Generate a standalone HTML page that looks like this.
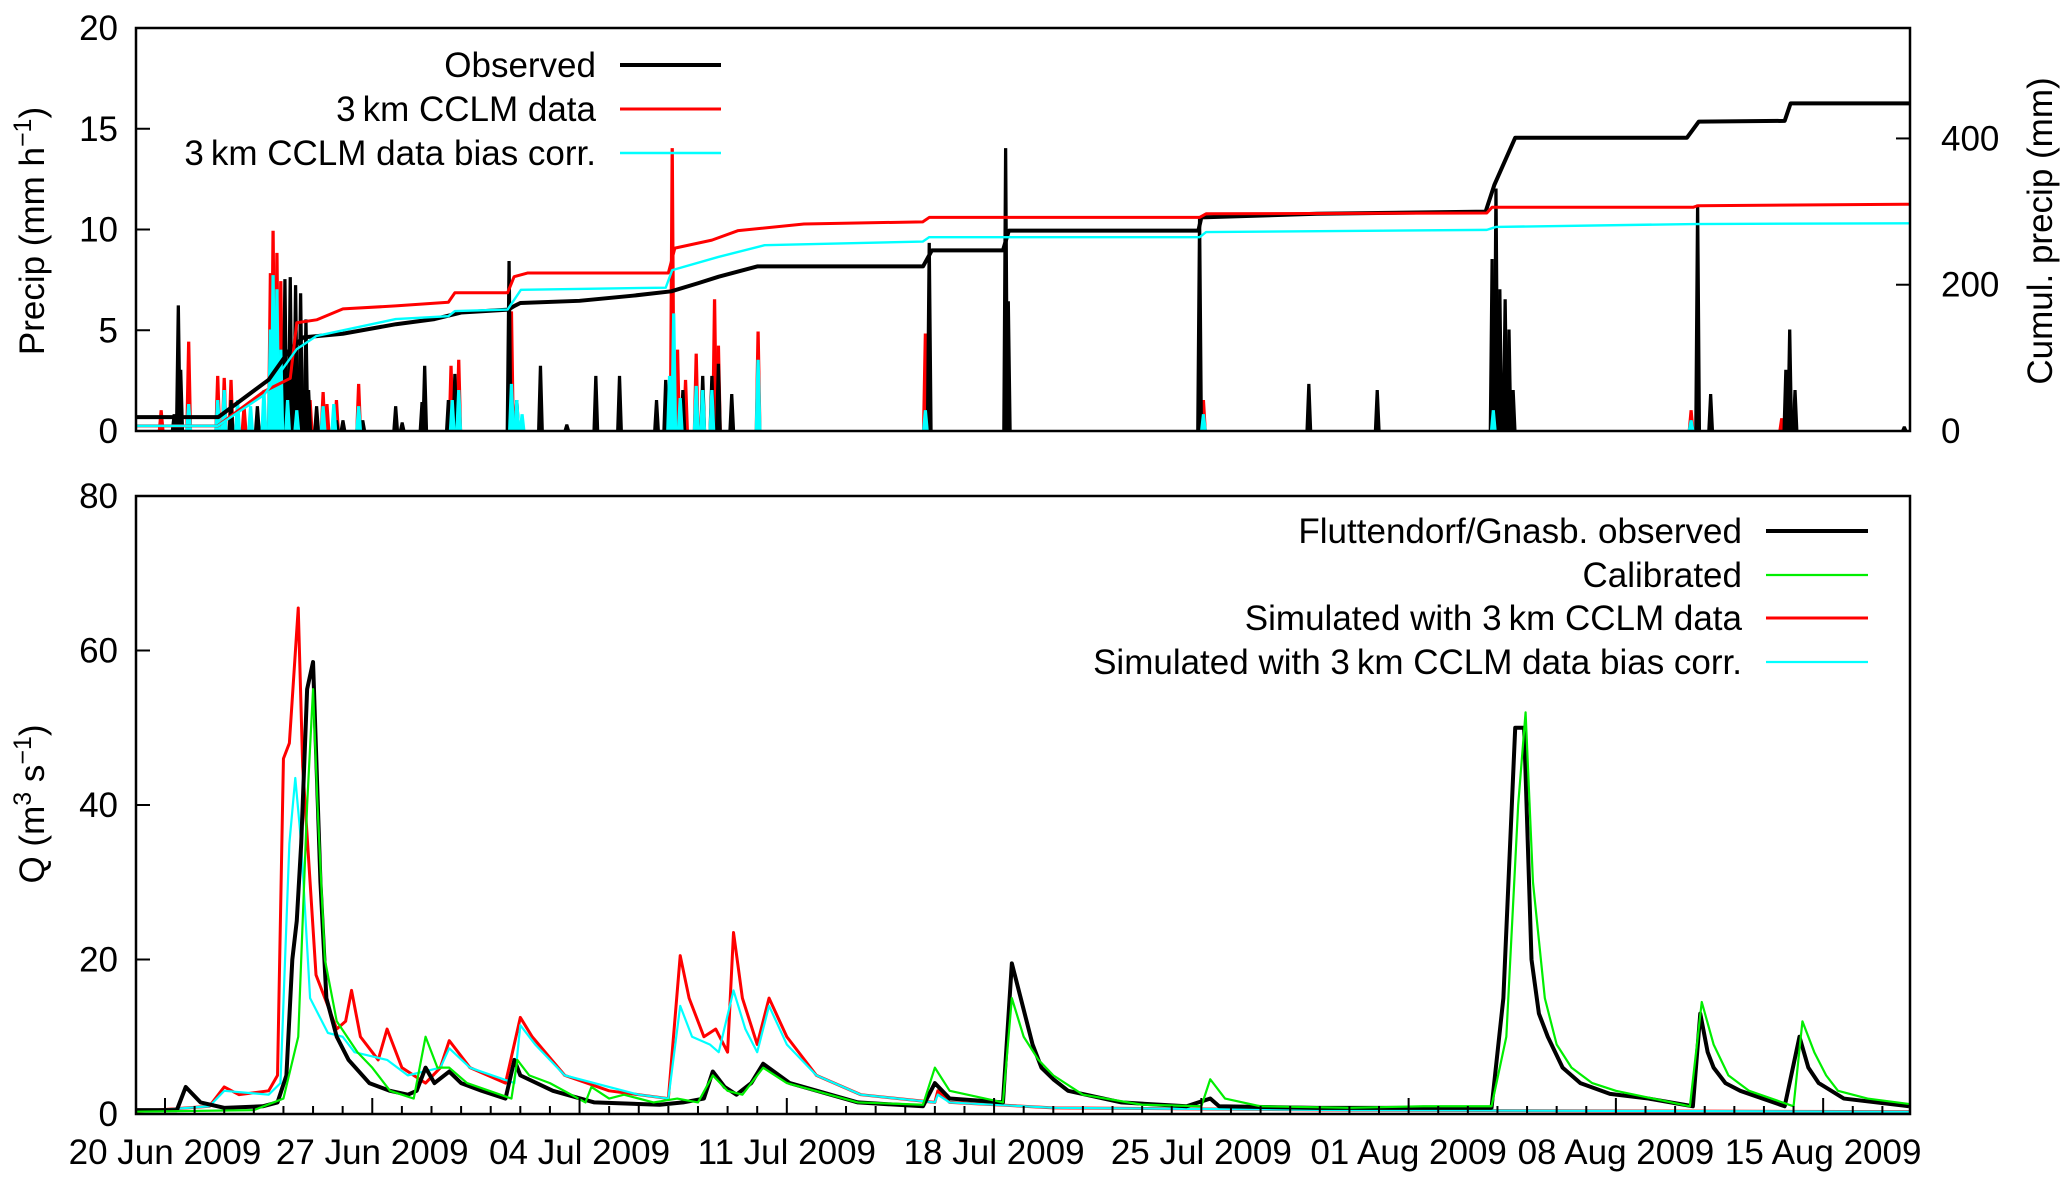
<!DOCTYPE html>
<html><head><meta charset="utf-8">
<style>
html,body{margin:0;padding:0;background:#fff;}
svg{display:block;font-family:"Liberation Sans",sans-serif;}
</style></head>
<body>
<svg id="chart" width="2067" height="1179" viewBox="0 0 2067 1179" xmlns="http://www.w3.org/2000/svg">
<g id="topPanel"></g>
<g id="botPanel"></g>
</svg>
<script>
// ---------- data (day offset from 20 Jun 2009 00:00) ----------
const dateTicks = [0,7,14,21,28,35,42,49,56];
const dateLabels = ["20 Jun 2009","27 Jun 2009","04 Jul 2009","11 Jul 2009","18 Jul 2009","25 Jul 2009","01 Aug 2009","08 Aug 2009","15 Aug 2009"];
const precipTicks = [0,5,10,15,20];
const cumulTicks = [0,200,400];
const qTicks = [0,20,40,60,80];

const obsBars = [[0.31,0.8],[0.45,6.2],[0.53,3],[2.23,1.5],[2.45,0.8],[3.12,1.2],[3.87,4],[4.05,7.5],[4.23,7.6],[4.41,7.2],[4.58,6.8],[4.76,5.5],[4.85,2],[5.12,1.2],[5.79,0.5],[6.01,0.5],[6.68,0.5],[7.79,1.2],[8.01,0.4],[8.68,1.4],[8.77,3.2],[9.57,1.5],[9.79,2.8],[11.62,8.4],[11.88,1.5],[12.68,3.2],[13.57,0.3],[14.55,2.7],[15.35,2.7],[16.6,1.5],[16.91,2.5],[17.49,2],[18.16,2.7],[18.47,2.7],[18.69,3.3],[19.14,1.8],[20.03,0.5],[25.81,9.3],[28.39,14],[28.48,6.4],[34.94,10.5],[38.63,2.3],[40.94,2],[44.82,8.5],[44.95,12],[45.08,7],[45.26,6.5],[45.39,5],[45.53,2],[51.76,11.2],[52.2,1.8],[54.74,3],[54.87,5],[55.05,2],[58.74,0.2]];
const cclmBars = [[-0.13,1.0],[0.8,4.4],[1.78,2.7],[2.0,2.6],[2.23,2.5],[2.67,1.2],[3.34,1.2],[3.56,7.8],[3.65,9.9],[3.78,8.8],[3.91,7.4],[4.45,2],[4.9,1.5],[5.34,1.9],[5.47,1.3],[5.79,1.5],[6.54,2.3],[9.66,3.2],[9.92,3.5],[11.7,5.9],[17.13,14],[17.31,4],[17.58,2.5],[17.94,3.8],[18.56,6.5],[18.69,4.2],[20.03,4.9],[25.68,4.8],[35.07,1.5],[44.86,1.8],[51.54,1.0],[54.6,0.6]];
const biasBars = [[0.8,1.3],[1.78,1.5],[2.0,2.0],[2.45,1.5],[2.89,1.2],[3.34,2.0],[3.56,5.0],[3.65,7.7],[3.78,7.0],[3.91,4.0],[4.14,1.5],[4.45,1.0],[5.34,1.2],[5.7,1.3],[6.54,1.2],[9.7,1.5],[9.92,2.0],[11.7,2.3],[11.88,1.5],[12.06,0.8],[17.04,2.7],[17.18,5.8],[17.4,1.6],[17.94,2.2],[18.16,2.0],[18.47,2.0],[20.03,3.5],[25.68,1.0],[35.07,0.8],[44.86,1.0],[51.54,0.5]];

const obsCumul = [[-1,19],[1.8,19],[2.5,40],[3.5,70],[4.2,110],[4.67,128],[6.0,133],[7.8,146],[9.1,153],[10.0,162],[11.6,166],[11.8,171],[12.0,175],[14.0,178],[15.8,185],[17.1,191],[18.0,202],[18.7,211],[20.0,225],[25.6,225],[25.9,247],[28.3,247],[28.5,274],[34.9,274],[35.0,292],[38.9,297],[44.6,300],[44.9,337],[45.6,401],[51.4,401],[51.8,423],[54.7,424],[54.9,448],[58.9,448]];
const cclmCumul = [[-1,7],[1.78,7],[3.34,54],[4.23,72],[4.45,148],[5.12,152],[6.01,167],[7.79,171],[9.57,176],[9.79,189],[11.57,189],[11.79,211],[12.24,216],[16.998,216],[17.22,250],[18.47,261],[19.36,274],[21.58,283],[25.59,286],[25.81,292],[34.94,292],[35.16,297],[44.64,298],[44.82,306],[51.62,306],[51.76,308],[58.9,310]];
const biasCumul = [[-1,7],[1.78,7],[3.34,49],[4.45,112],[5.12,130],[7.79,153],[9.57,157],[9.79,164],[11.57,166],[12.02,193],[16.91,196],[17.13,220],[18.69,238],[20.25,254],[25.59,259],[25.81,265],[34.94,265],[35.16,272],[44.64,275],[44.95,279],[51.62,283],[58.9,284]];

const qObs = [[-1,0.5],[0.4,0.5],[0.7,3.5],[1.2,1.5],[2,0.8],[3.3,1],[3.8,1.5],[4.1,5],[4.3,20],[4.45,25],[4.6,35],[4.8,55],[5.0,58.5],[5.25,30],[5.45,15],[5.8,10],[6.2,7],[6.9,4],[7.6,3],[8.2,2.5],[8.5,3],[8.8,6],[9.1,4],[9.6,5.5],[10.0,4],[10.7,3],[11.5,2],[11.8,7],[12.0,5],[13.1,3],[14.5,1.5],[16.7,1.2],[17.5,1.5],[18.2,2],[18.5,5.5],[18.9,3.5],[19.3,2.5],[19.8,4],[20.2,6.5],[21.1,4],[23.4,1.5],[25.6,1],[26.0,4],[26.5,2],[28.3,1.5],[28.6,19.5],[28.9,15],[29.3,9],[29.6,6],[30.0,4.5],[30.5,3],[32.3,1.5],[34.5,1],[35.3,2],[35.6,1],[38.9,0.8],[44.8,0.8],[45.2,15],[45.6,50],[45.9,50],[46.15,20],[46.4,13],[46.7,10],[47.2,6],[47.8,4],[48.8,2.6],[50.1,2],[51.6,1],[51.85,13],[52.1,8],[52.3,6],[52.7,4],[53.2,3],[54.7,1],[55.2,10],[55.5,6],[55.85,4],[56.7,2],[58.9,1]];
const qCal = [[-1,0.3],[3,0.5],[4,2],[4.5,10],[4.8,40],[5.0,55],[5.15,40],[5.4,20],[5.8,12],[6.5,8],[7.0,6],[7.6,3],[8.4,2],[8.8,10],[9.2,6],[9.6,6],[10.2,4],[11.7,2],[11.9,7],[12.3,5],[13.0,4],[14.2,1.5],[14.4,3.5],[15,2],[15.5,2.5],[16.5,1.5],[17.3,2],[18.0,1.5],[18.5,5],[19,3],[19.5,2.5],[20.2,6],[21,4],[23.4,1.5],[25.6,1.2],[26.0,6],[26.5,3],[28.3,1.5],[28.6,15],[29.0,10],[29.5,7],[30,5],[31,2.5],[33,1.2],[35.0,1],[35.3,4.5],[35.8,2],[37,1],[40,0.8],[42.5,1],[44.8,1],[45.3,10],[45.7,40],[45.95,52],[46.2,30],[46.6,15],[47.0,9],[47.5,6],[48.2,4],[49,3],[51.5,1],[51.9,14.5],[52.3,9],[52.8,5],[53.5,3],[55.0,1],[55.3,12],[55.7,8],[56.1,5],[56.5,3],[57.5,2],[58.9,1.3]];
const qCclm = [[-1,0.3],[1.5,1],[2,3.5],[2.5,2.5],[3.5,3],[3.8,5],[4.0,46],[4.2,48],[4.5,65.5],[4.65,45],[4.9,30],[5.1,18],[5.5,14],[5.8,11],[6.1,12],[6.3,16],[6.6,10],[7.2,7],[7.5,11],[8,6],[8.8,4],[9.3,6],[9.6,9.5],[10.3,6],[11.5,4],[12.0,12.5],[12.4,10],[13.5,5],[15,3],[16,2.5],[17.0,2],[17.4,20.5],[17.7,15],[18.2,10],[18.6,11],[19.0,8],[19.2,23.5],[19.5,15],[20.0,9],[20.4,15],[21,10],[22,5],[23.5,2.5],[26,1.5],[26.1,3],[26.5,1.5],[30,0.8],[40,0.5],[58.9,0.3]];
const qBias = [[-1,0.3],[1.5,1],[2,3],[3.5,2.5],[3.9,4],[4.2,35],[4.4,43.5],[4.6,35],[4.9,15],[5.5,10.5],[6.0,10],[6.4,8],[7.5,7],[8.2,5],[9.3,6],[9.6,8.5],[10.3,6],[11.8,4],[12.0,11.5],[12.5,9],[13.5,5],[16,2.5],[17.0,2],[17.4,14],[17.8,10],[18.4,9],[18.7,8],[19.2,16],[19.6,11],[20.0,8],[20.4,14],[21,9],[22,5],[23.5,2.5],[26,1.5],[26.1,2.5],[26.5,1.5],[30,0.8],[40,0.5],[58.9,0.3]];

// ---------- layout ----------
const NS="http://www.w3.org/2000/svg";
const X0=136,X1=1910;
const xS=d=>165+d*29.61;
const T0=28,T1=431, B0=496,B1=1114;
const yP=v=>T1-(T1-T0)*v/20;
const yC=v=>T1-(T1-T0)*v/551;
const yQ=v=>B1-(B1-B0)*v/80;
const FS=35;
function el(p,tag,a){const e=document.createElementNS(NS,tag);for(const k in a)e.setAttribute(k,a[k]);p.appendChild(e);return e;}
const topG=document.getElementById('topPanel'), botG=document.getElementById('botPanel');

function frame(g,y0,y1){
  const r=el(g,'rect',{x:X0,y:y0,width:X1-X0,height:y1-y0,fill:'none',stroke:'#000','stroke-width':2.5});
  
  
}
function txt(g,s,a,name){const t=el(g,'text',Object.assign({'font-size':FS,fill:'#000'},a));t.textContent=s;
  
  return t;}

function bars(arr,color,name){
  arr.forEach(([d,v])=>{
    const w=0.09;
    const p=el(topG,'polygon',{points:`${xS(d-w)},${yP(0)} ${xS(d-w/3)},${yP(v)} ${xS(d+w/3)},${yP(v)} ${xS(d+w)},${yP(0)}`,fill:color,stroke:color,'stroke-width':1.5});
    
    
  });
}
function line(g,arr,fy,color,w,name){
  const p=el(g,'polyline',{points:arr.map(([d,v])=>`${Math.max(X0,Math.min(X1,xS(d)))},${fy(v)}`).join(' '),fill:'none',stroke:color,'stroke-width':w,'stroke-linejoin':'round'});
  
  
}

// top panel
bars(cclmBars,'#ff0000','cclm-precip-bar');
bars(obsBars,'#000000','observed-precip-bar');
bars(biasBars,'#00ffff','bias-corr-precip-bar');
line(topG,obsCumul,yC,'#000',4,'observed-cumul-line');
line(topG,cclmCumul,yC,'#ff0000',3,'cclm-cumul-line');
line(topG,biasCumul,yC,'#00ffff',2.4,'bias-corr-cumul-line');
frame(topG,T0,T1);
precipTicks.forEach(v=>{
  const l=el(topG,'line',{x1:X0,x2:X0+14,y1:yP(v),y2:yP(v),stroke:'#000','stroke-width':2});
  
  
  txt(topG,String(v),{x:118,y:yP(v)+12,'text-anchor':'end'},'precip-tick-label');
});
cumulTicks.forEach(v=>{
  const l=el(topG,'line',{x1:X1-14,x2:X1,y1:yC(v),y2:yC(v),stroke:'#000','stroke-width':2});
  
  
  txt(topG,String(v),{x:1941,y:yC(v)+12,'text-anchor':'start'},'cumul-tick-label');
});
const py=txt(topG,'',{transform:'translate(44,231) rotate(-90)','text-anchor':'middle'},'precip-axis-title');
py.innerHTML='Precip (mm h<tspan dy="-13" font-size="25">−1</tspan><tspan dy="13">)</tspan>';
txt(topG,'Cumul. precip (mm)',{transform:'translate(2052,231) rotate(-90)','text-anchor':'middle'},'cumul-axis-title');
const legT=[['Observed','#000',4,65],['3\u2009km CCLM data','#ff0000',3,109],['3\u2009km CCLM data bias corr.','#00ffff',2.4,153]];
legT.forEach(([s,c,w,y])=>{
  txt(topG,s,{x:596,y:y+12,'text-anchor':'end'},'legend-label');
  const l=el(topG,'line',{x1:620,x2:721,y1:y,y2:y,stroke:c,'stroke-width':w});
  
  
});

// bottom panel
line(botG,qCclm,yQ,'#ff0000',3,'cclm-q-line');
line(botG,qBias,yQ,'#00ffff',2.2,'bias-corr-q-line');
line(botG,qObs,yQ,'#000',4,'observed-q-line');
line(botG,qCal,yQ,'#00ee00',2.2,'calibrated-q-line');
frame(botG,B0,B1);
qTicks.forEach(v=>{
  const l=el(botG,'line',{x1:X0,x2:X0+14,y1:yQ(v),y2:yQ(v),stroke:'#000','stroke-width':2});
  
  
  txt(botG,String(v),{x:118,y:yQ(v)+12,'text-anchor':'end'},'q-tick-label');
});
for(let d=0;d<=58;d++){
  const major=dateTicks.includes(d);
  const l=el(botG,'line',{x1:xS(d),x2:xS(d),y1:B1,y2:B1-(major?16:8),stroke:'#000','stroke-width':2});
  
  
}
dateTicks.forEach((d,i)=>txt(botG,dateLabels[i],{x:xS(d),y:1164,'text-anchor':'middle'},'date-tick-label'));
const qy=txt(botG,'',{transform:'translate(44,804) rotate(-90)','text-anchor':'middle'},'q-axis-title');
qy.innerHTML='Q (m<tspan dy="-13" font-size="25">3</tspan><tspan dy="13"> s</tspan><tspan dy="-13" font-size="25">−1</tspan><tspan dy="13">)</tspan>';
const legB=[['Fluttendorf/Gnasb. observed','#000',4,531],['Calibrated','#00ee00',2.2,575],['Simulated with 3\u2009km CCLM data','#ff0000',3,618],['Simulated with 3\u2009km CCLM data bias corr.','#00ffff',2.2,662]];
legB.forEach(([s,c,w,y])=>{
  txt(botG,s,{x:1742,y:y+12,'text-anchor':'end'},'legend-label');
  const l=el(botG,'line',{x1:1766,x2:1868,y1:y,y2:y,stroke:c,'stroke-width':w});
  
  
});
</script>
</body></html>
